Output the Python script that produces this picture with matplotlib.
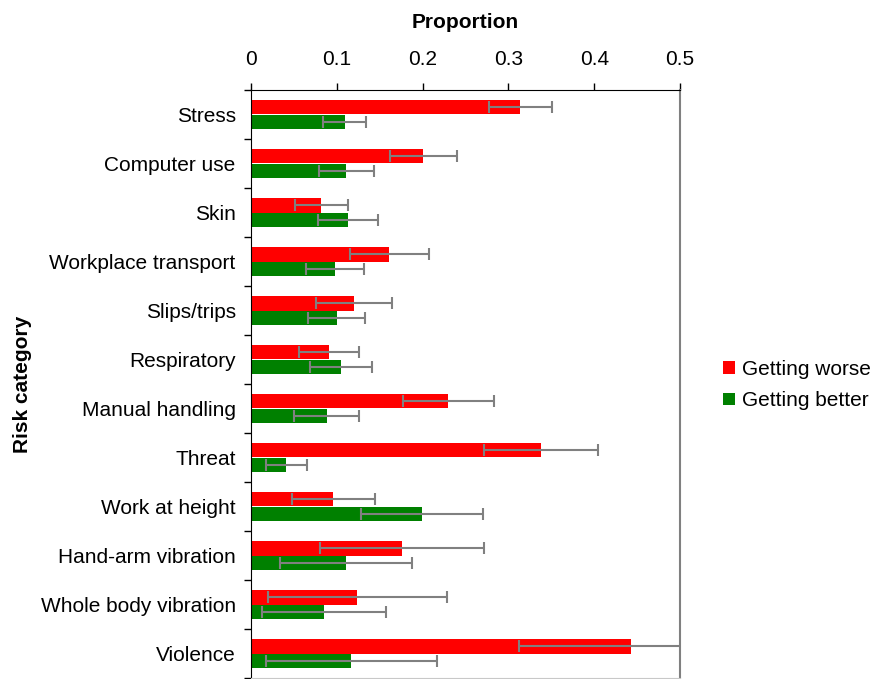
import matplotlib
matplotlib.use("Agg")
import matplotlib.pyplot as plt
import numpy as np
from matplotlib.patches import Patch

plt.rcParams['font.family'] = ['Liberation Sans', 'DejaVu Sans']

categories = ["Stress", "Computer use", "Skin", "Workplace transport", "Slips/trips",
              "Respiratory", "Manual handling", "Threat", "Work at height",
              "Hand-arm vibration", "Whole body vibration", "Violence"]
worse = [0.314, 0.201, 0.082, 0.161, 0.120, 0.091, 0.230, 0.338, 0.096, 0.176, 0.124, 0.443]
worse_err = [0.037, 0.039, 0.031, 0.046, 0.044, 0.035, 0.053, 0.066, 0.048, 0.096, 0.104, 0.131]
better = [0.109, 0.111, 0.113, 0.098, 0.100, 0.105, 0.088, 0.041, 0.199, 0.111, 0.085, 0.117]
better_err = [0.025, 0.032, 0.035, 0.034, 0.033, 0.036, 0.038, 0.024, 0.071, 0.077, 0.072, 0.100]

FS = 15

fig = plt.figure(figsize=(8.72, 6.79), dpi=100)
ax = fig.add_axes([251 / 872, 1 - 678 / 679, (680 - 251) / 872, (678 - 90) / 679])

y = np.arange(len(categories))
h = 0.3
err_kw = dict(ecolor="#808080", elinewidth=1.5, capsize=4, capthick=1.5)
ax.barh(y - h / 2, worse, height=h, color="#ff0000", xerr=worse_err, error_kw=err_kw)
ax.barh(y + h / 2, better, height=h, color="#008000", xerr=better_err, error_kw=err_kw)

ax.set_xlim(0, 0.5)
ax.set_ylim(len(categories) - 0.5, -0.5)

ax.xaxis.tick_top()
ax.xaxis.set_label_position("top")
ax.set_xticks([0, 0.1, 0.2, 0.3, 0.4, 0.5])
ax.set_xticklabels(["0", "0.1", "0.2", "0.3", "0.4", "0.5"])
ax.tick_params(axis="x", direction="out", length=5, width=1, labelsize=FS, pad=10)
ax.set_xlabel("Proportion", fontsize=FS, fontweight="bold", labelpad=16)

ax.set_yticks(np.arange(len(categories) + 1) - 0.5)
ax.set_yticklabels([])
ax.set_yticks(y, minor=True)
ax.set_yticklabels(categories, minor=True, fontsize=FS)
ax.tick_params(axis="y", which="major", direction="out", length=5, width=1)
ax.tick_params(axis="y", which="minor", length=0, pad=11)
ax.set_ylabel("Risk category", fontsize=FS, fontweight="bold", labelpad=6)

ax.spines["top"].set_color("black")
ax.spines["left"].set_color("black")
ax.spines["right"].set_color("#808080")
ax.spines["right"].set_linewidth(1.5)
ax.spines["bottom"].set_color("#c8c8c8")

handles = [Patch(facecolor="#ff0000", label="Getting worse"),
           Patch(facecolor="#008000", label="Getting better")]
fig.legend(handles=handles, loc="center left", bbox_to_anchor=(0.808, 0.433),
           frameon=False, fontsize=FS, handlelength=0.55, handleheight=0.55,
           handletextpad=0.35, labelspacing=0.6)

fig.savefig("out.png", dpi=100)
